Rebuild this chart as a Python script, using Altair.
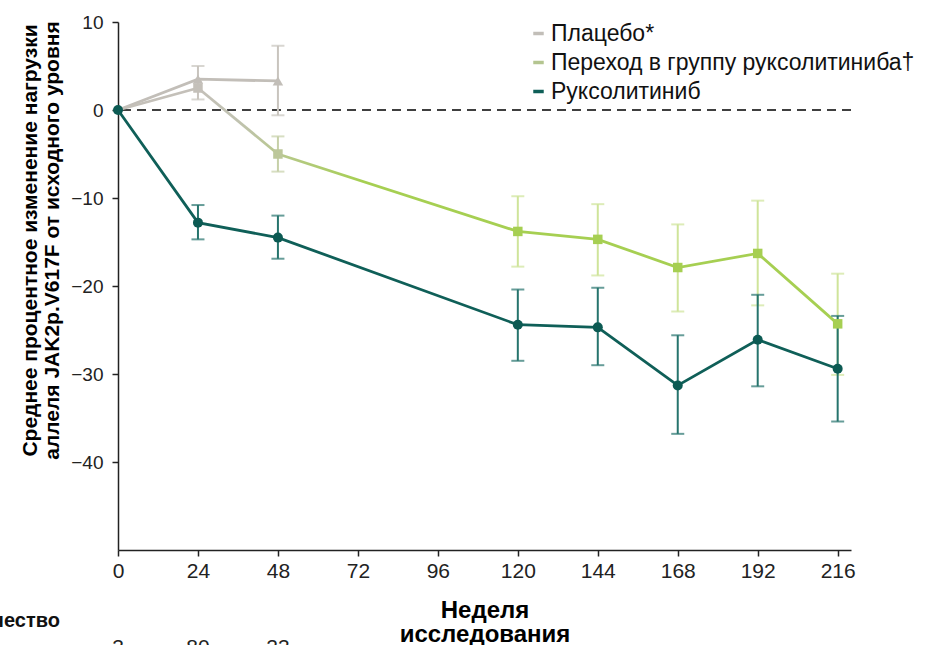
import altair as alt
import pandas as pd

# Study weeks and mean % change of JAK2 V617F allele burden (with error bars)
weeks = [0, 24, 48, 120, 144, 168, 192, 216]

rux_mean = [0, -12.8, -14.5, -24.4, -24.7, -31.3, -26.1, -29.4]
rux_lo = [None, -14.7, -16.9, -28.5, -29.0, -36.8, -31.4, -35.4]
rux_hi = [None, -10.8, -12.0, -20.4, -20.2, -25.6, -21.0, -23.4]

cross_mean = [0, 2.5, -5.0, -13.8, -14.7, -17.9, -16.3, -24.3]
cross_lo = [None, None, -7.0, -17.8, -18.8, -22.9, -22.2, -30.1]
cross_hi = [None, None, -3.0, -9.8, -10.7, -13.0, -10.3, -18.6]

placebo_weeks = [0, 24, 48]
placebo_mean = [0, 3.5, 3.3]
placebo_lo = [None, 1.2, -0.6]
placebo_hi = [None, 5.0, 7.3]

series_names = ["Плацебо*", "Переход в группу руксолитиниба†", "Руксолитиниб"]
series_colors = ["#c2beb8", "#b4c590", "#0f5f58"]

x_ticks = [0, 24, 48, 72, 96, 120, 144, 168, 192, 216]
y_ticks = [-40, -30, -20, -10, 0, 10]

count_weeks = [0, 24, 48]
count_labels = ["3", "80", "23"]

FONT = "Liberation Sans"

rux = pd.DataFrame({"week": weeks, "mean": rux_mean, "lo": rux_lo, "hi": rux_hi,
                    "series": series_names[2]})
cross = pd.DataFrame({"week": weeks, "mean": cross_mean, "lo": cross_lo, "hi": cross_hi,
                      "series": series_names[1]})
placebo = pd.DataFrame({"week": placebo_weeks, "mean": placebo_mean, "lo": placebo_lo,
                        "hi": placebo_hi, "series": series_names[0]})
counts = pd.DataFrame({"week": count_weeks, "n": count_labels})

x_axis = alt.Axis(values=x_ticks, title=["Неделя", "исследования"], grid=False,
                  labelFontSize=21, labelFont=FONT, labelColor="#222", labelFlush=False,
                  titleFontSize=24, titleFont=FONT, titleFontWeight="bold",
                  titleLineHeight=24, titleBaseline="alphabetic", titleY=67,
                  tickSize=6, domainColor="#222", tickColor="#222", domainWidth=1.5,
                  tickWidth=1.5, labelPadding=4)
y_axis = alt.Axis(values=y_ticks, title=["Среднее процентное изменение нагрузки",
                                         "аллеля JAK2p.V617F от исходного уровня"],
                  grid=False, labelFontSize=19, labelFont=FONT, labelColor="#222",
                  labelExpr="replace(datum.label, '-', '\u2212')",
                  titleFontSize=21, titleFont=FONT, titleFontWeight="bold",
                  titleLineHeight=22, titleAngle=270, titleBaseline="top",
                  titleAlign="center", titleX=-99, titleY=218,
                  tickSize=6, domainColor="#222", tickColor="#222", domainWidth=1.5,
                  tickWidth=1.5, labelPadding=9)


def X(field="week"):
    return alt.X(f"{field}:Q", scale=alt.Scale(domain=[0, 220], nice=False), axis=x_axis)


def Y(field):
    return alt.Y(f"{field}:Q", scale=alt.Scale(domain=[-50, 10], nice=False), axis=y_axis)


color_enc = alt.Color("series:N", scale=alt.Scale(domain=series_names, range=series_colors),
                      legend=alt.Legend(title=None))

zero = alt.Chart(pd.DataFrame({"v": [0]})).mark_rule(
    color="black", strokeDash=[9, 6], strokeWidth=1.6).encode(y=Y("v"))

# Placebo arm
pl_line = alt.Chart(placebo).mark_line(strokeWidth=2.8).encode(x=X(), y=Y("mean"), color=color_enc)
pl_err = alt.Chart(placebo).mark_errorbar(ticks=True, size=13, thickness=2, color="#c8c4be").encode(
    x=X(), y=Y("lo"), y2="hi:Q")
pl_pts = alt.Chart(placebo).transform_filter("datum.week > 0").mark_point(
    shape="triangle-up", filled=True, size=110, opacity=1, color="#c2beb8").encode(x=X(), y=Y("mean"))

# Crossover arm: grey before week 24, fading into green towards week 48
cr_pre = alt.Chart(cross).transform_filter("datum.week <= 24").mark_line(
    strokeWidth=2.8, color="#c4c0b9").encode(x=X(), y=Y("mean"))
cr_mid = alt.Chart(cross).transform_filter("datum.week >= 24 && datum.week <= 48").mark_line(
    strokeWidth=2.8,
    stroke=alt.Gradient(gradient="linear",
                        stops=[alt.GradientStop(color="#c4c0b9", offset=0),
                               alt.GradientStop(color="#c0c2b0", offset=0.5),
                               alt.GradientStop(color="#b8c88e", offset=1)],
                        x1=0, x2=1, y1=0, y2=0)).encode(x=X(), y=Y("mean"))
cr_post = alt.Chart(cross).transform_filter("datum.week >= 48").mark_line(
    strokeWidth=2.8,
    stroke=alt.Gradient(gradient="linear",
                        stops=[alt.GradientStop(color="#b8c88e", offset=0),
                               alt.GradientStop(color="#a6cf52", offset=0.15),
                               alt.GradientStop(color="#a6cf52", offset=1)],
                        x1=0, x2=1, y1=0, y2=0)).encode(x=X(), y=Y("mean"))
cr_legend = alt.Chart(cross).transform_filter("datum.week >= 48").mark_line(
    strokeWidth=0, opacity=0).encode(x=X(), y=Y("mean"), color=color_enc)
cr_err_early = alt.Chart(cross).transform_filter("datum.week == 48").mark_errorbar(
    ticks=True, size=13, thickness=2, color="#c6d0a8").encode(x=X(), y=Y("lo"), y2="hi:Q")
cr_err = alt.Chart(cross).transform_filter("datum.week > 48").mark_errorbar(
    ticks=True, size=13, thickness=2, color="#cfe49a").encode(x=X(), y=Y("lo"), y2="hi:Q")
cr_pt24 = alt.Chart(cross).transform_filter("datum.week == 24").mark_point(
    shape="square", filled=True, size=90, opacity=1, color="#c4c0b9").encode(x=X(), y=Y("mean"))
cr_pt48 = alt.Chart(cross).transform_filter("datum.week == 48").mark_point(
    shape="square", filled=True, size=90, opacity=1, color="#bcc79a").encode(x=X(), y=Y("mean"))
cr_pts = alt.Chart(cross).transform_filter("datum.week > 48").mark_point(
    shape="square", filled=True, size=90, opacity=1, color="#a6cf52").encode(x=X(), y=Y("mean"))

# Ruxolitinib arm
rx_line = alt.Chart(rux).mark_line(strokeWidth=2.8).encode(x=X(), y=Y("mean"), color=color_enc)
rx_err = alt.Chart(rux).mark_errorbar(ticks=True, size=13, thickness=2, color="#26746d").encode(
    x=X(), y=Y("lo"), y2="hi:Q")
rx_pts = alt.Chart(rux).mark_point(shape="circle", filled=True, size=100, opacity=1,
                                   color="#0c5a53").encode(x=X(), y=Y("mean"))

# Number-at-risk row below the axis
count_title = alt.Chart(pd.DataFrame({"t": ["Количество"]})).mark_text(
    align="right", baseline="middle", font=FONT, fontSize=20, fontWeight="bold", color="#111"
).encode(x=alt.value(-58), y=alt.value(599), text="t:N")
count_row = alt.Chart(counts).mark_text(
    align="center", baseline="alphabetic", font=FONT, fontSize=21, color="#222"
).encode(x=X(), y=alt.value(632), text="n:N")

chart = alt.layer(
    zero,
    pl_line, cr_pre, cr_mid, cr_post, cr_legend, rx_line,
    pl_err, cr_err_early, cr_err, rx_err,
    pl_pts, cr_pt24, cr_pt48, cr_pts, rx_pts,
    count_title, count_row,
).properties(
    width=733, height=528,
    autosize=alt.AutoSizeParams(type="none"),
    padding={"left": 118, "top": 22, "right": 75, "bottom": 95},
).configure_view(stroke=None).configure_legend(
    orient="none", legendX=409, legendY=0, labelFont=FONT, labelFontSize=23,
    labelColor="#111", symbolType="stroke",
    symbolStrokeWidth=3.5, symbolSize=110, rowPadding=5, labelOffset=1, labelLimit=500,
)

chart.save("out.html", embed_options={"renderer": "svg", "actions": False})
